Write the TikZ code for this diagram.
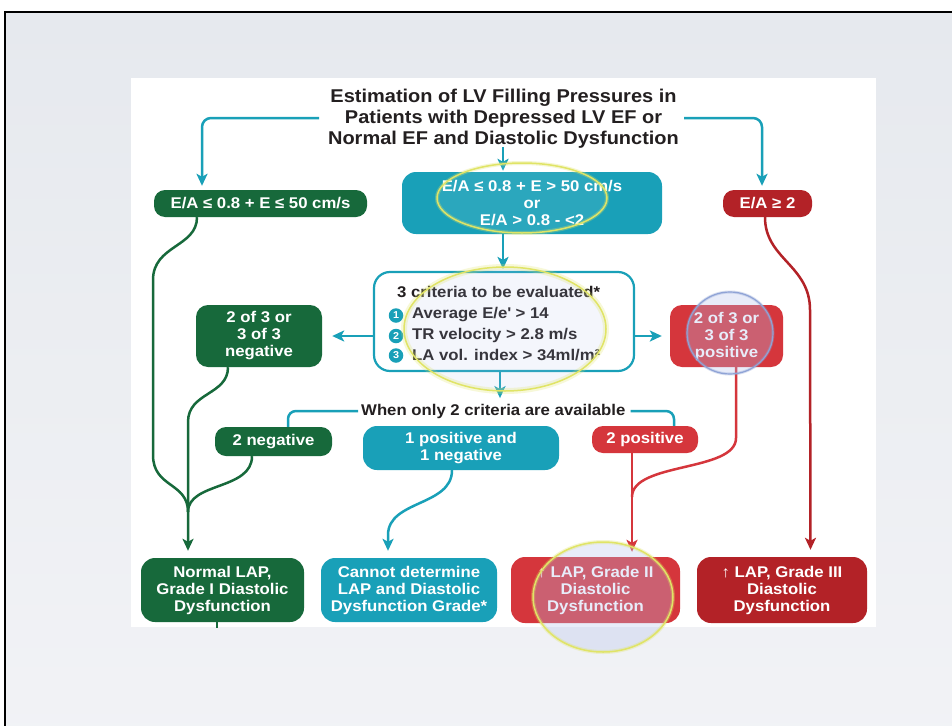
\documentclass[tikz,border=0pt]{standalone}
\usepackage{fontspec}
\setmainfont{Liberation Sans}[FakeStretch=1.08]
\usetikzlibrary{arrows.meta}
\definecolor{dgreen}{HTML}{17693B}
\definecolor{teal1}{HTML}{19A0B8}
\definecolor{dred}{HTML}{B32227}
\definecolor{lred}{HTML}{D5363C}
\definecolor{txt}{HTML}{231F20}
\definecolor{bgtop}{HTML}{E6E9EE}
\definecolor{bgbot}{HTML}{F2F3F6}
\definecolor{rim}{HTML}{E0E466}
\definecolor{lensblue}{HTML}{B4C2EE}
\definecolor{rimblue}{HTML}{8FA3D6}
\tikzset{
  box/.style={rounded corners=12pt, inner sep=0pt, align=center, text=white,
    font=\bfseries\fontsize{15.5}{17}\selectfont},
  gbox/.style={box, fill=dgreen},
  tbox/.style={box, fill=teal1},
  rbox/.style={box, fill=dred},
  lbox/.style={box, fill=lred},
  conn/.style={line width=2.5pt},
  tconn/.style={conn, draw=teal1},
  gconn/.style={conn, draw=dgreen},
  rconn/.style={conn, draw=lred},
  drconn/.style={conn, draw=dred},
  arr/.style={-{Stealth[length=12pt,width=11pt,inset=3pt]}},
  crit/.style={anchor=west, inner sep=0pt, text=txt, font=\bfseries\fontsize{15.5}{17}\selectfont},
  numc/.style={circle, fill=teal1, text=white, inner sep=0pt, minimum size=14.5pt,
    font=\bfseries\fontsize{10}{10}\selectfont},
}
\begin{document}
\begin{tikzpicture}[x=1pt,y=-1pt]
\useasboundingbox (0,0) rectangle (952,725);
\clip (0,0) rectangle (952,725);
\fill[white] (0,0) rectangle (952,725);
% slide background and frame
\shade[top color=bgtop, bottom color=bgbot] (5,12) rectangle (980,760);
\draw[black, line width=2pt] (5,760) -- (5,12) -- (980,12);
% white image
\fill[white] (131,78) rectangle (876,627);

% title
\node[align=center, text=txt, font=\bfseries\fontsize{18.5}{21}\selectfont, inner sep=0pt] (title) at (503.5,119)
  {Estimation of LV Filling Pressures in\\Patients with Depressed LV EF or\\Normal EF and Diastolic Dysfunction};
\coordinate (tL) at (319,118);
\coordinate (tR) at (684,118);
\coordinate (tC) at (503,147);

% top row
\node[gbox, rounded corners=11pt, minimum width=213pt, minimum height=27pt] (A) at (260.5,203.5) {E/A ≤ 0.8 + E ≤ 50 cm/s};
\node[tbox, rounded corners=14pt, minimum width=260pt, minimum height=62pt] (B) at (532,203) {E/A ≤ 0.8 + E > 50 cm/s\\or\\E/A > 0.8 - <2};
\node[rbox, rounded corners=11pt, minimum width=89pt, minimum height=27pt] (C) at (767.5,203.5) {E/A ≥ 2};

% criteria box
\node[box, fill=white, draw=teal1, line width=2.2pt, rounded corners=16pt, minimum width=260pt, minimum height=99pt] (K) at (504,321.5) {};
\node[crit] (k0) at (397,292) {3 criteria to be evaluated*};
\node[numc] (n1) at (396,315.5) {1};
\node[numc] (n2) at (396,336) {2};
\node[numc] (n3) at (396,355.5) {3};
\node[crit] (k1) at (412,315) {Average E/e\textquotesingle{} > 14};
\node[crit] (k2) at (412,335.5) {TR velocity > 2.8 m/s};
\node[crit] (k3) at (412,355) {LA vol. index > 34ml/m²};

% side boxes
\node[gbox, minimum width=126pt, minimum height=62pt] (G) at (259,336) {2 of 3 or\\3 of 3\\negative};
\node[lbox, minimum width=113pt, minimum height=62pt] (P) at (726.5,336) {2 of 3 or\\3 of 3\\positive};

% when only 2 criteria
\node[anchor=west, inner sep=0pt, text=txt, font=\bfseries\fontsize{15.5}{17}\selectfont] (W) at (361,411) {When only 2 criteria are available};
\node[gbox, rounded corners=11pt, minimum width=117pt, minimum height=29pt] (N2) at (273.5,441.5) {2 negative};
\node[tbox, rounded corners=14pt, minimum width=196pt, minimum height=44pt] (O) at (461,448) {1 positive and\\1 negative};
\node[lbox, rounded corners=11pt, minimum width=106pt, minimum height=27pt] (P2) at (645,439.5) {2 positive};

% bottom row
\node[gbox, rounded corners=14pt, minimum width=163pt, minimum height=64pt] (NL) at (222.5,590) {Normal LAP,\\Grade I Diastolic\\Dysfunction};
\node[tbox, rounded corners=14pt, minimum width=176pt, minimum height=64pt] (CD) at (409,590) {Cannot determine\\LAP and Diastolic\\Dysfunction Grade*};
\node[lbox, rounded corners=14pt, minimum width=169pt, minimum height=66pt] (G2) at (595.5,590) {↑ LAP, Grade II\\Diastolic\\Dysfunction};
\node[rbox, rounded corners=14pt, minimum width=170pt, minimum height=66pt] (G3) at (782,590) {↑ LAP, Grade III\\Diastolic\\Dysfunction};

% connectors: title
\draw[tconn, arr, rounded corners=9pt] (tL) -| ([xshift=-58.5pt,yshift=4pt]A.north);
\draw[tconn, arr, rounded corners=9pt] (tR) -| ([xshift=-5.5pt,yshift=4pt]C.north);
\draw[tconn, arr] (tC) -- ([yshift=1pt]tC |- B.north);
\draw[tconn, arr] (tC |- B.south) -- ([yshift=2pt]tC |- K.north);
% criteria sides
\draw[tconn, arr] (K.west |- G.east) -- ([xshift=10pt]G.east);
\draw[tconn, arr] (K.east |- P.west) -- ([xshift=-8pt]P.west);
\draw[tconn, arr] ([xshift=-4pt]K.south) -- ([xshift=-4pt,yshift=-26pt]K.south);
% when only 2 lines
\draw[tconn, rounded corners=8pt] ([xshift=-3pt]W.west) -| ([xshift=14.5pt]N2.north);
\draw[tconn, rounded corners=8pt] ([xshift=5pt]W.east) -| ([xshift=29pt]P2.north);

% green connectors
\draw[gconn] ([xshift=-63.5pt]A.south) .. controls +(0,30) and (153,245) .. (153,280) -- (153,455)
  .. controls (153,488) and (188,482) .. (188,512);
\draw[gconn] ([xshift=-21.5pt]N2.south) .. controls +(0,34) and (188,482) .. (188,512);
\draw[gconn, arr] ([xshift=-31pt]G.south) .. controls +(0,28) and (188,392) .. (188,422)
  -- ([xshift=-34.5pt,yshift=7pt]NL.north);
\draw[gconn] ([xshift=-5.5pt]NL.south) -- ++(0,6);

% teal connector
\draw[tconn, arr] ([xshift=-9pt]O.south) .. controls +(0,36) and (388,500) .. (388,535)
  -- ([xshift=-21pt,yshift=7pt]CD.north);

% red connectors
\draw[drconn, arr] ([xshift=-2.5pt]C.south) .. controls +(0,42) and (810,265) .. (810,310)
  -- ([xshift=28.5pt,yshift=7pt]G3.north);
\draw[rconn] ([xshift=9.5pt]P.south) -- (736,438) .. controls (736,472) and (632,462) .. (632,497);
\draw[rconn, arr] ([xshift=-13pt]P2.south) -- ([xshift=36.5pt,yshift=5pt]G2.north);

% highlight lenses
\fill[white, opacity=0.08] (522,198) ellipse [x radius=85, y radius=35];
\draw[rim, line width=4pt, opacity=0.3] (522,198) ellipse [x radius=85, y radius=35];
\draw[rim, line width=1.5pt] (522,198) ellipse [x radius=85, y radius=35];

\fill[lensblue, opacity=0.14] (505,329) ellipse [x radius=101, y radius=62];
\draw[rim, line width=6pt, opacity=0.25] (505,329) ellipse [x radius=101, y radius=62];
\draw[rim, line width=1.5pt] (505,329) ellipse [x radius=101, y radius=62];

\fill[lensblue, opacity=0.3] (730,333) ellipse [x radius=43, y radius=41];
\draw[rimblue, line width=3pt, opacity=0.35] (730,333) ellipse [x radius=43, y radius=41];
\draw[rimblue, line width=1.2pt] (730,333) ellipse [x radius=43, y radius=41];

\fill[lensblue, opacity=0.3] (603,597) ellipse [x radius=70, y radius=55];
\draw[rim, line width=4pt, opacity=0.3] (603,597) ellipse [x radius=70, y radius=55];
\draw[rim, line width=1.5pt] (603,597) ellipse [x radius=70, y radius=55];
\end{tikzpicture}
\end{document}
